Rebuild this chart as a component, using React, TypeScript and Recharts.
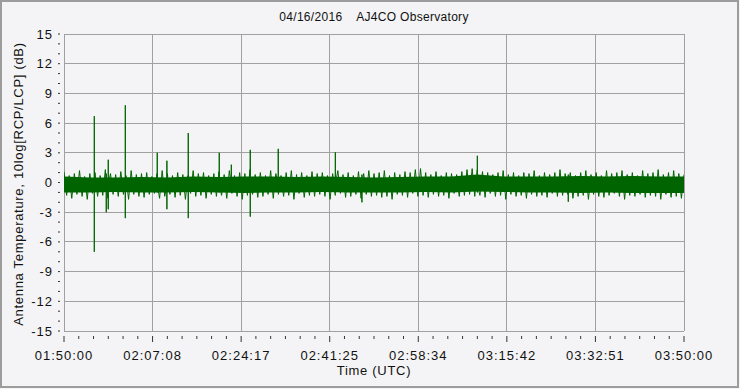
import React from 'react';
import { ComposedChart, Line, Area, XAxis, YAxis, CartesianGrid } from 'recharts';

// time axis: seconds since 01:50:00 UTC, 2 hours shown
const SPAN = 7200;
const timeLabels = ['01:50:00', '02:07:08', '02:24:17', '02:41:25', '02:58:34', '03:15:42', '03:32:51', '03:50:00'];
const yMajor = [-15, -12, -9, -6, -3, 0, 3, 6, 9, 12, 15];

// noise band, one pair per minute: upper needle (at :00) and lower needle (at :30), dB
const upper = [
  1.1, 0.7, 0.9, 1.2, 0.6, 0.9, 1.0, 0.7, 1.3, 0.9,
  0.8, 1.1, 0.7, 1.2, 0.8, 0.9, 1.0, 0.6, 0.9, 1.2,
  0.9, 0.7, 1.0, 0.8, 0.7, 1.2, 0.9, 1.0, 0.7, 0.9,
  1.1, 0.8, 1.2, 0.7, 1.0, 0.9, 1.3, 0.8, 1.0, 0.7,
  1.2, 0.9, 0.7, 1.0, 1.2, 0.8, 1.0, 0.7, 1.1, 0.9,
  1.0, 0.7, 0.9, 1.2, 0.8, 1.0, 0.7, 1.1, 0.9, 1.2,
  0.9, 1.0, 1.2, 0.7, 1.0, 0.8, 1.1, 1.0, 1.3, 1.4,
  1.0, 0.8, 1.1, 0.7, 1.0, 0.9, 0.8, 1.1, 1.3, 1.4,
  1.3, 1.1, 1.0, 0.8, 1.0, 1.2, 0.8, 1.0, 0.7, 1.0,
  0.9, 1.2, 0.7, 1.0, 0.8, 1.0, 1.3, 0.9, 1.0, 0.7,
  1.0, 1.2, 0.8, 1.0, 0.7, 1.2, 0.9, 1.0, 1.2, 0.8,
  1.0, 0.7, 1.2, 0.9, 1.0, 1.3, 0.8, 1.0, 1.2, 0.9, 0.8
];
const lower = [
  -1.3, -1.6, -1.2, -1.4, -1.7, -1.1, -1.4, -1.3, -1.6, -1.2,
  -1.4, -1.2, -1.7, -1.2, -1.4, -1.5, -1.2, -1.1, -1.6, -1.4,
  -1.2, -1.5, -1.3, -1.7, -1.1, -1.4, -1.3, -1.6, -1.2, -1.4,
  -1.3, -1.6, -1.1, -1.4, -1.7, -1.3, -1.2, -1.5, -1.4, -1.2,
  -1.6, -1.2, -1.4, -1.3, -1.7, -1.1, -1.5, -1.3, -1.4, -1.2,
  -1.4, -1.7, -1.3, -1.1, -1.5, -1.4, -1.2, -1.6, -1.2, -1.4,
  -1.3, -1.5, -1.4, -1.7, -1.2, -1.3, -1.5, -1.1, -1.4, -1.3,
  -1.5, -1.2, -1.4, -1.3, -1.6, -1.1, -1.4, -1.3, -1.2, -1.4,
  -1.3, -1.5, -1.1, -1.4, -1.3, -1.7, -1.2, -1.4, -1.3, -1.6,
  -1.2, -1.4, -1.3, -1.5, -1.1, -1.4, -1.3, -1.2, -1.6, -1.4,
  -1.3, -1.7, -1.2, -1.4, -1.5, -1.3, -1.1, -1.4, -1.7, -1.3,
  -1.4, -1.2, -1.5, -1.3, -1.4, -1.7, -1.2, -1.5, -1.4, -1.6
];

// solid core of the band, every 5 minutes
const coreHi = [0.6, 0.5, 0.5, 0.55, 0.5, 0.6, 0.55, 0.6, 0.6, 0.55, 0.6, 0.55, 0.5, 0.55, 0.6, 0.6, 0.8, 0.6, 0.6, 0.6, 0.65, 0.6, 0.65, 0.6, 0.6];
const coreLo = [-1.0, -1.0, -0.95, -1.0, -1.0, -0.95, -1.0, -1.05, -1.0, -1.0, -0.95, -1.0, -1.0, -1.0, -0.95, -1.0, -0.9, -0.95, -1.0, -1.0, -1.05, -1.0, -1.05, -1.05, -1.05];

// isolated spikes (seconds, top dB, bottom dB), drawn as vertical strokes through the band
const spikeTimes = [352, 491, 514, 712, 1083, 1195, 1443, 1803, 1943, 2163, 2488, 3151, 3460, 4800, 5856];
const spikeHigh = [6.7, 0.9, 2.3, 7.8, 3.0, 2.2, 5.0, 3.0, 1.8, 3.3, 3.4, 3.05, 0.8, 2.7, 0.8];
const spikeLow = [-7.0, -3.0, -2.7, -3.6, -1.0, -2.7, -3.6, -1.0, -1.0, -3.45, -1.0, -1.0, -2.0, -1.0, -1.94];
const SPIKE_BASE = -0.2;

type Row = { t: number; v?: number; core?: [number, number] };

const rows: Row[] = [];
upper.forEach((u, i) => {
  rows.push({ t: i * 60, v: u });
  if (i < lower.length) rows.push({ t: i * 60 + 30, v: lower[i] });
});
coreHi.forEach((h, i) => rows.push({ t: i * 300, core: [coreLo[i], h] }));
spikeTimes.forEach((t, i) => {
  rows.push({ t, v: SPIKE_BASE });
  rows.push({ t, v: spikeHigh[i] });
  rows.push({ t, v: spikeLow[i] });
  rows.push({ t, v: SPIKE_BASE });
});
rows.sort((a, b) => a.t - b.t);

const majorTimes = timeLabels.map((_, i) => (i * SPAN) / 7);
const xTicks = Array.from({ length: 43 }, (_, k) => (k * SPAN) / 42);
const yTicks = Array.from({ length: 31 }, (_, k) => k - 15);

const font = '"Liberation Sans", Arial, sans-serif';

function TimeTick(props: any) {
  const { x, y, payload } = props;
  const k = Math.round(payload.value / (SPAN / 42));
  const major = k % 6 === 0;
  return (
    <g>
      <line x1={x} x2={x} y1={y + 5} y2={major ? y + 11 : y + 8} stroke="#333" />
      {major && (
        <text x={x} y={y + 29} textAnchor="middle" fontSize={13} fill="#111" style={{ letterSpacing: 1 }}>
          {timeLabels[k / 6]}
        </text>
      )}
    </g>
  );
}

function DbTick(props: any) {
  const { x, y, payload } = props;
  const major = payload.value % 3 === 0;
  return (
    <g>
      <line x1={x - 6} x2={x - 4} y1={y} y2={y} stroke="#333" />
      {major && (
        <text x={x - 11} y={y + 4.5} textAnchor="end" fontSize={13} fill="#111" style={{ letterSpacing: 1 }}>
          {payload.value}
        </text>
      )}
    </g>
  );
}

export default function App() {
  return (
    <div style={{ position: 'absolute', left: 0, top: 0, width: 740, height: 389, background: '#f4f4f6', fontFamily: font }}>
      <div style={{ position: 'absolute', left: 0, top: 0, width: 739, height: 388, border: '2px solid #9c9c9c', boxSizing: 'border-box' }} />
      <div style={{ position: 'absolute', left: 64, top: 10, width: 620, textAlign: 'center', fontSize: 12, letterSpacing: 0.3, whiteSpace: 'pre', color: '#111' }}>
        {'04/16/2016    AJ4CO Observatory'}
      </div>
      <div style={{ position: 'absolute', left: 18, top: 184, transform: 'translate(-50%, -50%) rotate(-90deg)', fontSize: 13, letterSpacing: 0.7, whiteSpace: 'nowrap', color: '#111' }}>
        Antenna Temperature, 10log[RCP/LCP] (dB)
      </div>
      <div style={{ position: 'absolute', left: 64, top: 363, width: 620, textAlign: 'center', fontSize: 13, letterSpacing: 0.7, color: '#111' }}>
        Time (UTC)
      </div>
      <ComposedChart width={740} height={389} data={rows} margin={{ top: 34, right: 56, bottom: 18, left: 0 }} style={{ position: 'absolute', left: 0, top: 0 }}>
        <CartesianGrid stroke="#a0a0a0" horizontalValues={yMajor} verticalValues={majorTimes} shapeRendering="crispEdges" />
        <XAxis
          type="number"
          dataKey="t"
          domain={[0, SPAN]}
          ticks={xTicks}
          interval={0}
          tick={<TimeTick />}
          tickLine={false}
          axisLine={false}
          tickSize={0}
          tickMargin={0}
          height={40}
          allowDataOverflow
        />
        <YAxis
          type="number"
          domain={[-15, 15]}
          ticks={yTicks}
          interval={0}
          tick={<DbTick />}
          tickLine={false}
          axisLine={false}
          tickSize={0}
          tickMargin={0}
          width={64}
          allowDataOverflow
        />
        <Area dataKey="core" type="linear" fill="#006400" fillOpacity={1} stroke="none" connectNulls dot={false} activeDot={false} isAnimationActive={false} />
        <Line dataKey="v" type="linear" stroke="#006400" strokeWidth={1} connectNulls dot={false} activeDot={false} isAnimationActive={false} />
      </ComposedChart>
    </div>
  );
}
